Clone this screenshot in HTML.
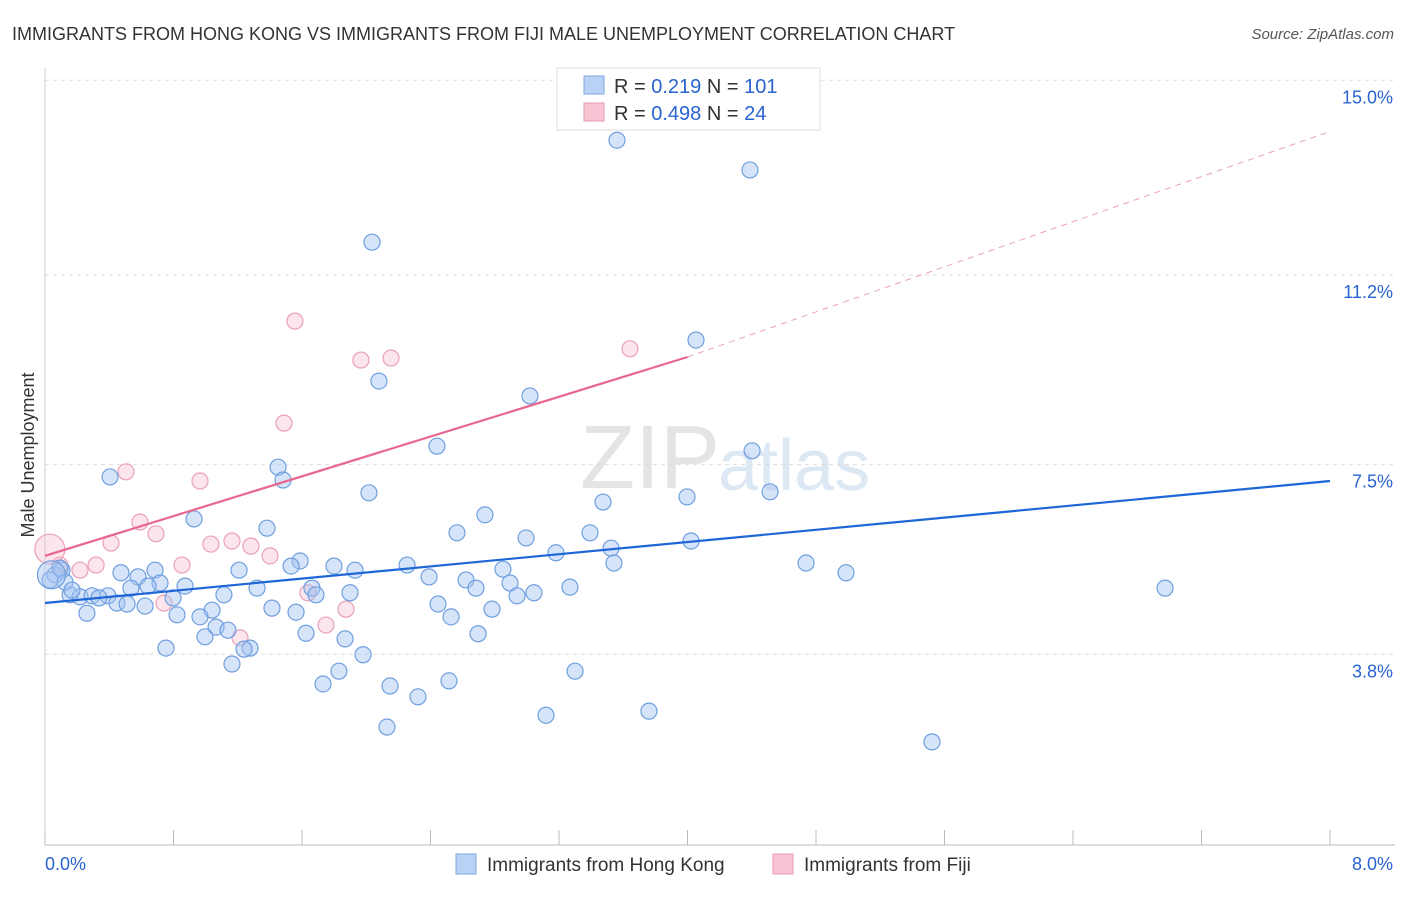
<!DOCTYPE html>
<html><head><meta charset="utf-8"><style>
body{margin:0;background:#fff;font-family:"Liberation Sans",sans-serif;}
svg text{font-family:"Liberation Sans",sans-serif;}
</style></head><body>
<svg id="chart" width="1406" height="892">
<text x="12" y="40" font-size="18" fill="#333">IMMIGRANTS FROM HONG KONG VS IMMIGRANTS FROM FIJI MALE UNEMPLOYMENT CORRELATION CHART</text>
<text x="1394" y="39" font-size="15" fill="#555" font-style="italic" text-anchor="end">Source: ZipAtlas.com</text>
<text x="720" y="488" font-size="90" fill="#e4e4e4" text-anchor="end" font-family="Liberation Serif">ZIP</text>
<text x="718" y="490" font-size="72" fill="#dde8f5">atlas</text>
<g id="grid"></g><g id="axes"></g><g id="pts"></g><g id="lines"></g>
<text transform="translate(34,455) rotate(-90)" font-size="18" fill="#333" text-anchor="middle">Male Unemployment</text>
<g>
<rect x="557" y="68" width="263" height="62" fill="#fff" stroke="#ddd"/>
<rect x="584" y="76" width="20" height="18" fill="#b9d1f5" stroke="#7fa7e3"/>
<rect x="584" y="103" width="20" height="18" fill="#f9c4d3" stroke="#e99ab2"/>
<text x="614" y="93" font-size="20" fill="#333">R = <tspan fill="#2864d0">0.219</tspan>   N = <tspan fill="#2864d0">101</tspan></text>
<text x="614" y="120" font-size="20" fill="#333">R = <tspan fill="#2864d0">0.498</tspan>   N = <tspan fill="#2864d0"> 24</tspan></text>
</g>
<g>
<rect x="456" y="854" width="20" height="20" fill="#b9d1f5" stroke="#7fa7e3"/>
<text x="487" y="871" font-size="19" fill="#333">Immigrants from Hong Kong</text>
<rect x="773" y="854" width="20" height="20" fill="#f9c4d3" stroke="#e99ab2"/>
<text x="804" y="871" font-size="19" fill="#333">Immigrants from Fiji</text>
</g>
</svg>
<script>
const yTicks=[3.8,7.5,11.2,15.0];
const yTickLabels=["3.8%","7.5%","11.2%","15.0%"];
const xTickLabels=["0.0%","8.0%"];
const hkPx=[[617,140],[750,170],[372,242],[696,340],[379,381],[530,396],[437,446],[752,451],[110,477],[278,467],[283,480],[369,493],[687,497],[770,492],[603,502],[194,519],[485,515],[267,528],[457,533],[590,533],[526,538],[691,541],[611,548],[556,553],[300,561],[291,566],[334,566],[407,565],[614,563],[806,563],[846,573],[503,569],[355,570],[239,570],[121,573],[155,570],[429,577],[466,580],[510,583],[138,577],[160,583],[185,586],[148,586],[131,588],[257,588],[312,588],[476,588],[570,587],[1165,588],[350,593],[517,596],[534,593],[316,595],[224,595],[173,598],[70,595],[80,597],[92,596],[108,596],[117,603],[127,604],[145,606],[438,604],[492,609],[212,610],[272,608],[296,612],[87,613],[177,615],[200,617],[451,617],[216,627],[228,630],[306,633],[478,634],[205,637],[345,639],[250,648],[244,649],[166,648],[363,655],[232,664],[339,671],[575,671],[323,684],[449,681],[390,686],[418,697],[546,715],[649,711],[387,727],[932,742],[55,575],[62,570],[50,580],[65,582],[72,590],[99,598],[60,568]];
const fjPx=[[295,321],[361,360],[391,358],[630,349],[284,423],[126,472],[200,481],[140,522],[156,534],[111,543],[211,544],[232,541],[251,546],[182,565],[96,565],[270,556],[80,570],[308,593],[346,609],[164,603],[326,625],[240,638],[60,565]];
// convert read pixel positions to data values (x %, y %)
const hkX=hkPx.map(p=>+((p[0]-45)/1285*8).toFixed(3)), hkY=hkPx.map(p=>+((849-p[1])/51.25).toFixed(2));
const fjX=fjPx.map(p=>+((p[0]-45)/1285*8).toFixed(3)), fjY=fjPx.map(p=>+((849-p[1])/51.25).toFixed(2));
const hkBigX=[0.04], hkBigY=[5.35];
const fjBigX=[0.03], fjBigY=[5.85];
const hkTrend=[[0,4.8],[8,7.18]];
const fjTrend=[[0,5.72],[4,9.6],[8,14.0]];
const X=v=>45+v/8*1285, Y=v=>849-v*51.25;
const NS="http://www.w3.org/2000/svg";
function mk(t,a,parent){const e=document.createElementNS(NS,t);for(const k in a)e.setAttribute(k,a[k]);document.getElementById(parent).appendChild(e);return e;}
yTicks.forEach((t,i)=>{
 const l=mk('line',{x1:45,x2:1395,y1:Y(t),y2:Y(t),stroke:'#ddd','stroke-dasharray':'4,4'},'grid');
 
 
 const tx=mk('text',{x:1393,y:Y(t)+23,'font-size':18,fill:'#2864d0','text-anchor':'end'},'grid');tx.textContent=yTickLabels[i];
 
 
});
const ax=mk('line',{x1:45,x2:1395,y1:845,y2:845,stroke:'#bbb'},'axes');


const ay=mk('line',{x1:45,x2:45,y1:68,y2:845,stroke:'#ccc'},'axes');


for(let i=0;i<=10;i++){const t=mk('line',{x1:X(i*0.8),x2:X(i*0.8),y1:830,y2:845,stroke:'#bbb'},'axes');
 
 }
[[0,70,'start'],[8,1393,'end']].forEach((d,i)=>{const t=mk('text',{x:d[1]-(i?0:0),y:870,'font-size':18,fill:'#2864d0','text-anchor':d[2]},'axes');t.textContent=xTickLabels[i];
 if(i==0)t.setAttribute('x',45);
 
 });
function dots(xs,ys,r,fill,stroke,name){xs.forEach((x,i)=>{const c=mk('circle',{cx:X(x),cy:Y(ys[i]),r:r,fill:fill,stroke:stroke,'stroke-width':1.2},'pts');
 
 });}
dots(fjX,fjY,8,'rgba(246,180,200,0.35)','#eba0b7','fiji-point');
dots(fjBigX,fjBigY,15,'rgba(246,180,200,0.35)','#eba0b7','fiji-point');
dots(hkX,hkY,8,'rgba(165,195,242,0.45)','#6f9fe0','hong-kong-point');
dots(hkBigX,hkBigY,14,'rgba(165,195,242,0.45)','#6f9fe0','hong-kong-point');
const bl=mk('line',{x1:X(hkTrend[0][0]),y1:Y(hkTrend[0][1]),x2:X(hkTrend[1][0]),y2:Y(hkTrend[1][1]),stroke:'#1f66d6','stroke-width':2.2},'lines');


const pl=mk('line',{x1:X(fjTrend[0][0]),y1:Y(fjTrend[0][1]),x2:X(fjTrend[1][0]),y2:Y(fjTrend[1][1]),stroke:'#e8668f','stroke-width':2.2},'lines');


const pd=mk('line',{x1:X(fjTrend[1][0]),y1:Y(fjTrend[1][1]),x2:X(fjTrend[2][0]),y2:Y(fjTrend[2][1]),stroke:'#eaa0b6','stroke-width':1,'stroke-dasharray':'6,5'},'lines');


</script>
</body></html>
